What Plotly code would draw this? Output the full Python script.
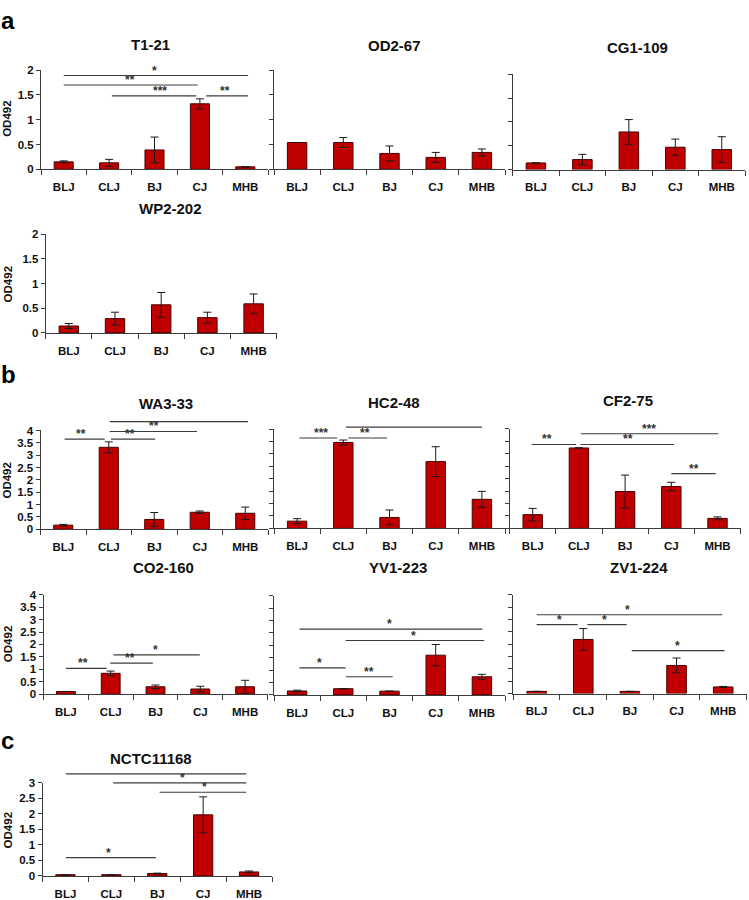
import plotly.graph_objects as go

W, H = 749, 900
FONT = "Liberation Sans"

categories = ["BLJ", "CLJ", "BJ", "CJ", "MHB"]

# ---- data: mean OD492 and error per strain ----
T1_21 = [0.15, 0.13, 0.39, 1.32, 0.05]
T1_21_err = [0.02, 0.07, 0.26, 0.10, 0.0]
OD2_67 = [0.54, 0.54, 0.32, 0.24, 0.34]
OD2_67_err = [0.0, 0.10, 0.15, 0.10, 0.07]
CG1_109 = [0.14, 0.21, 0.79, 0.47, 0.42]
CG1_109_err = [0.0, 0.11, 0.26, 0.17, 0.27]
WP2_202 = [0.14, 0.29, 0.57, 0.31, 0.59]
WP2_202_err = [0.05, 0.13, 0.25, 0.11, 0.20]
WA3_33 = [0.17, 3.32, 0.40, 0.69, 0.65]
WA3_33_err = [0.03, 0.22, 0.28, 0.05, 0.25]
HC2_48 = [0.29, 3.46, 0.44, 2.69, 1.17]
HC2_48_err = [0.10, 0.10, 0.30, 0.60, 0.32]
CF2_75 = [0.55, 3.23, 1.48, 1.68, 0.40]
CF2_75_err = [0.25, 0.0, 0.66, 0.17, 0.06]
CO2_160 = [0.11, 0.84, 0.30, 0.21, 0.30]
CO2_160_err = [0.0, 0.09, 0.07, 0.11, 0.26]
YV1_223 = [0.16, 0.25, 0.15, 1.60, 0.73]
YV1_223_err = [0.03, 0.0, 0.0, 0.43, 0.10]
ZV1_224 = [0.09, 2.19, 0.09, 1.14, 0.27]
ZV1_224_err = [0.0, 0.44, 0.0, 0.30, 0.02]
NCTC11168 = [0.04, 0.04, 0.08, 1.97, 0.13]
NCTC11168_err = [0.0, 0.0, 0.01, 0.58, 0.03]

# significance brackets: (from, to, level, label, label position)
T1_21_sig = [(0.0, 4.06, 1.89, "*", 2.0), (0.0, 2.95, 1.70, "**", 1.45),
             (1.06, 2.92, 1.48, "***", 2.12), (3.14, 4.06, 1.48, "**", 3.55)]
OD2_67_sig = []
CG1_109_sig = []
WP2_202_sig = []
WA3_33_sig = [(0.03, 0.91, 3.65, "**", 0.39), (1.05, 2.02, 3.65, "**", 1.46),
              (1.02, 2.94, 3.96, "**", 2.0), (1.02, 4.06, 4.36, "***", 2.4)]
HC2_48_sig = [(0.05, 0.87, 3.64, "***", 0.51), (1.11, 1.95, 3.64, "**", 1.48),
              (1.06, 4.0, 4.08, "*", 2.43)]
CF2_75_sig = [(-0.02, 0.94, 3.37, "**", 0.30), (1.04, 3.06, 3.37, "**", 2.06),
              (1.04, 4.02, 3.80, "***", 2.52), (3.0, 3.96, 2.20, "**", 3.49)]
CO2_160_sig = [(0.0, 0.91, 1.04, "**", 0.39), (0.99, 1.94, 1.25, "**", 1.42),
               (1.06, 2.99, 1.58, "*", 2.0)]
YV1_223_sig = [(0.05, 4.01, 2.65, "*", 2.0), (1.05, 4.05, 2.19, "*", 2.52),
               (0.05, 1.05, 1.09, "*", 0.48), (1.06, 2.07, 0.73, "**", 1.56)]
ZV1_224_sig = [(0.0, 3.98, 3.19, "*", 1.94), (0.0, 0.88, 2.79, "*", 0.48),
               (1.09, 1.93, 2.79, "*", 1.45), (2.04, 4.03, 1.74, "*", 3.02)]
NCTC11168_sig = [(0.01, 3.94, 3.29, "**", 2.13), (1.04, 3.94, 3.0, "*", 2.56),
                 (2.05, 3.94, 2.70, "*", 3.03), (0.01, 1.97, 0.59, "*", 0.94)]

panels = [
    ("T1-21", T1_21, T1_21_err, T1_21_sig),
    ("OD2-67", OD2_67, OD2_67_err, OD2_67_sig),
    ("CG1-109", CG1_109, CG1_109_err, CG1_109_sig),
    ("WP2-202", WP2_202, WP2_202_err, WP2_202_sig),
    ("WA3-33", WA3_33, WA3_33_err, WA3_33_sig),
    ("HC2-48", HC2_48, HC2_48_err, HC2_48_sig),
    ("CF2-75", CF2_75, CF2_75_err, CF2_75_sig),
    ("CO2-160", CO2_160, CO2_160_err, CO2_160_sig),
    ("YV1-223", YV1_223, YV1_223_err, YV1_223_sig),
    ("ZV1-224", ZV1_224, ZV1_224_err, ZV1_224_sig),
    ("NCTC11168", NCTC11168, NCTC11168_err, NCTC11168_sig),
]
y_max = [2, 2, 2, 2, 4, 4, 4, 4, 4, 4, 3]

# ---- layout geometry in pixels: left, right, top, bottom, first-column ----
geom = [
    (41, 268, 65, 165.7, True),
    (274, 505, 65, 165.7, False),
    (512.7, 745, 69.3, 166, False),
    (45.7, 276.7, 231.7, 331.7, True),
    (40.5, 268, 430.7, 531, True),
    (274, 505, 429.3, 530, False),
    (509.6, 740.6, 429, 530, False),
    (43.5, 267.5, 597.3, 698.3, True),
    (274, 505, 598.3, 699, False),
    (513.3, 746.5, 597.3, 697.7, False),
    (42.5, 272, 788.3, 882.7, True),
]
title_pos = [(150.7, 39.3), (394, 40), (637.5, 41.7), (170.8, 205), (166.3, 403.3),
             (393.5, 402.7), (628.3, 400), (163.8, 570), (397.8, 570), (638.7, 570),
             (151, 763.3)]
ylab_pos = [(7.5, 115), (7.5, 283), (7.5, 482), (7.5, 648), (7.5, 837)]
letters = [("a", 0, "top"), ("b", 374, "middle"), ("c", 745, "middle")]

BAR = "#c00000"
EDGE = "#4a0000"
AX = "#3c3c3c"
F = 1.35


def px_x(p):
    return p / W


def px_y(p):
    return 1 - p / H


fig = go.Figure()
annotations = []
N = len(panels)
for i, ((name, mean, err, sig), ymx, (l, r, t, b, first)) in enumerate(zip(panels, y_max, geom), start=1):
    xs = "" if i == 1 else str(i)
    ys = "" if i == 1 else str(i)
    so = str(i + N)
    xpos = list(range(len(categories)))
    fig.add_trace(go.Bar(
        x=xpos, y=mean, width=0.42,
        marker=dict(color=BAR, line=dict(color=EDGE, width=1)),
        error_y=dict(type="data", array=err, visible=True, color="#1a1a1a", thickness=1, width=4),
        xaxis="x" + xs, yaxis="y" + ys, showlegend=False, hoverinfo="skip"))
    lx, ly = [], []
    for (a0, a1, yy, lab, lp) in sig:
        lx += [a0, a1, None]
        ly += [yy, yy, None]
        annotations.append(dict(x=lp, y=yy, xref="x" + xs, yref="y" + ys, text=lab,
                                showarrow=False, yanchor="bottom", yshift=-4,
                                font=dict(family=FONT, size=12, color="#333", weight="bold")))
    fig.add_trace(go.Scatter(x=lx if lx else [None], y=ly if ly else [None], mode="lines",
                             line=dict(color=AX, width=1.1), xaxis="x" + xs, yaxis="y" + so,
                             showlegend=False, hoverinfo="skip"))
    d0 = px_y(b)
    d1 = px_y(t)
    yticks = [k * 0.5 for k in range(int(ymx * 2) + 1)]
    fig.layout["xaxis" + xs] = dict(
        domain=[px_x(l), px_x(r)], range=[-0.5, 4.5], anchor="y" + ys,
        tickmode="array", tickvals=xpos, ticktext=categories, ticks="",
        ticklabelstandoff=7,
        showline=True, linecolor=AX, linewidth=1, showgrid=False, zeroline=False,
        tickfont=dict(family=FONT, size=11.5, color="#111", weight="bold"),
        minor=dict(tickmode="array", tickvals=[-0.5, 0.5, 1.5, 2.5, 3.5, 4.5], ticks="outside",
                   ticklen=5, tickcolor=AX, tickwidth=1, showgrid=False),
        fixedrange=True)
    fig.layout["yaxis" + ys] = dict(
        domain=[d0, d1], range=[0, ymx], anchor="x" + xs,
        tickmode="array", tickvals=yticks, ticktext=[f"{v:g}" for v in yticks],
        ticks="outside", ticklen=4, tickcolor=AX, showticklabels=first,
        showline=True, linecolor=AX, linewidth=1, showgrid=False, zeroline=False,
        tickfont=dict(family=FONT, size=11.5, color="#111", weight="bold"),
        fixedrange=True)
    fig.layout["yaxis" + so] = dict(
        domain=[d0, d0 + (d1 - d0) * F], range=[0, ymx * F], anchor="x" + xs,
        visible=False, showgrid=False, zeroline=False, fixedrange=True)
    tx, ty = title_pos[i - 1]
    annotations.append(dict(x=px_x(tx), y=px_y(ty), xref="paper", yref="paper", text=name,
                            showarrow=False, xanchor="center", yanchor="middle",
                            font=dict(family=FONT, size=15, color="#111", weight="bold")))

for (px_, py_) in ylab_pos:
    annotations.append(dict(x=px_x(px_), y=px_y(py_), xref="paper", yref="paper", text="OD492",
                            textangle=-90, showarrow=False, xanchor="center", yanchor="middle",
                            font=dict(family=FONT, size=11.5, color="#111", weight="bold")))
for (lt, py_, anc) in letters:
    annotations.append(dict(x=0, y=px_y(py_), xref="paper", yref="paper", text=lt,
                            showarrow=False, xanchor="left", yanchor=anc, borderpad=0,
                            font=dict(family=FONT, size=24, color="#000", weight="bold")))

fig.update_layout(width=W, height=H, margin=dict(l=0, r=0, t=0, b=0),
                  paper_bgcolor="white", plot_bgcolor="rgba(0,0,0,0)",
                  annotations=annotations, bargap=0.5, showlegend=False)
fig.write_html("out.html", config={"displayModeBar": False},
               post_script="document.body.style.margin='0';document.body.style.overflow='hidden';")
